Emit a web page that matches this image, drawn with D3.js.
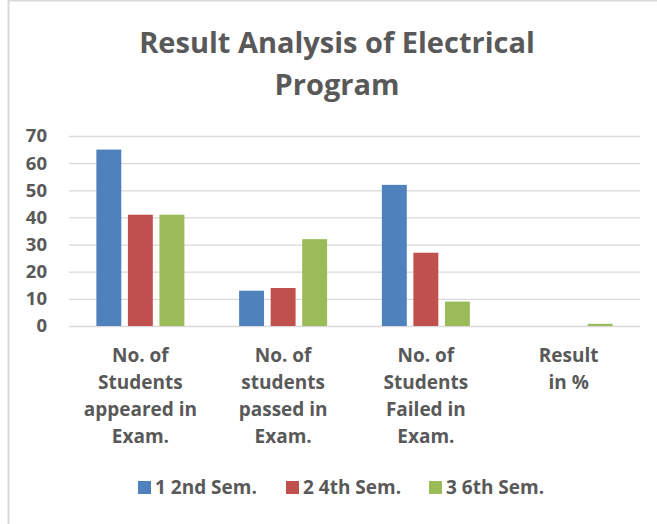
<!DOCTYPE html>
<html>
<head>
<meta charset="utf-8">
<script src="https://cdn.jsdelivr.net/npm/d3@7"></script>
<style>
  body { margin: 0; background: #fff; }
  text { font-family: "Open Sans", "Noto Sans", sans-serif; font-weight: bold; fill: #595959; }
</style>
</head>
<body>
<div id="chart"></div>
<script>
// data
var categories = [
  ["No. of", "Students", "appeared in", "Exam."],
  ["No. of", "students", "passed in", "Exam."],
  ["No. of", "Students", "Failed in", "Exam."],
  ["Result", "in %"]
];
var seriesNames = ["1 2nd Sem.", "2 4th Sem.", "3 6th Sem."];
var sem2 = [65, 13, 52, 0];
var sem4 = [41, 14, 27, 0];
var sem6 = [41, 32, 9, 0.8];
var yTicks = [0, 10, 20, 30, 40, 50, 60, 70];
var colors = ["#4F81BD", "#C0504D", "#9BBB59"];

var W = 657, H = 524;
var margin = { top: 136, right: 17, bottom: 198, left: 69 },
  width = W - margin.left - margin.right,
  height = H - margin.top - margin.bottom;

var svg = d3.select("#chart")
  .append("svg")
  .attr("width", W)
  .attr("height", H);

// frame
svg.append("line").attr("x1", 8.5).attr("x2", 8.5).attr("y1", 0).attr("y2", H)
  .attr("stroke", "#d9d9d9").attr("stroke-width", 2);
svg.append("line").attr("x1", 8).attr("x2", W).attr("y1", 0.5).attr("y2", 0.5)
  .attr("stroke", "#d9d9d9").attr("stroke-width", 2);

// title
var title = svg.append("text")
  .attr("text-anchor", "middle")
  .style("font-size", "29px");
title.append("tspan").attr("x", 337).attr("y", 53).text("Result Analysis of Electrical");
title.append("tspan").attr("x", 337).attr("y", 95).text("Program");

var g = svg.append("g")
  .attr("transform", "translate(" + margin.left + "," + margin.top + ")");

var y = d3.scaleLinear().domain([0, 70]).range([height, 0]);
var x0 = d3.scaleBand().domain(d3.range(categories.length)).range([0, width]).paddingInner(0).paddingOuter(0);
var x1 = d3.scaleBand().domain(d3.range(3)).range([0, 88]).paddingInner(0.21);

// gridlines
g.append("g")
  .call(d3.axisLeft(y).tickValues(yTicks).tickSize(-width).tickFormat(""))
  .call(function (a) {
    a.select(".domain").remove();
    a.selectAll("line").attr("stroke", "#d9d9d9").attr("stroke-width", 1.3);
  });

// y labels
g.append("g")
  .attr("transform", "translate(-22,0)")
  .call(d3.axisLeft(y).tickValues(yTicks).tickSize(0).tickPadding(0))
  .call(function (a) {
    a.select(".domain").remove();
    a.selectAll("text").style("font-size", "18.5px").attr("fill", "#595959")
      .style("font-family", "'Open Sans', sans-serif").style("font-weight", "bold");
  });

var series = [sem2, sem4, sem6];
series.forEach(function (vals, si) {
  g.append("g").selectAll("rect")
    .data(vals)
    .enter()
    .append("rect")
    .attr("x", function (d, i) { return x0(i) + x0.bandwidth() / 2 - 44 + x1(si); })
    .attr("width", x1.bandwidth())
    .attr("y", function (d) { return y(d); })
    .attr("height", function (d) { return height - y(d); })
    .attr("fill", colors[si]);
});

// category labels
var catG = g.append("g").attr("transform", "translate(0," + height + ")");
categories.forEach(function (lines, i) {
  var t = catG.append("text")
    .attr("text-anchor", "middle")
    .style("font-size", "19px");
  lines.forEach(function (ln, k) {
    t.append("tspan")
      .attr("x", x0(i) + x0.bandwidth() / 2)
      .attr("y", 36 + k * 27)
      .text(ln);
  });
});

// legend
var legendX = [138, 286, 429];
var leg = svg.append("g").attr("transform", "translate(0,494)");
seriesNames.forEach(function (name, i) {
  leg.append("rect").attr("x", legendX[i]).attr("y", -13).attr("width", 13).attr("height", 13)
    .attr("fill", colors[i]);
  leg.append("text").attr("x", legendX[i] + 17).attr("y", 0).style("font-size", "19px").text(name);
});
</script>
</body>
</html>
